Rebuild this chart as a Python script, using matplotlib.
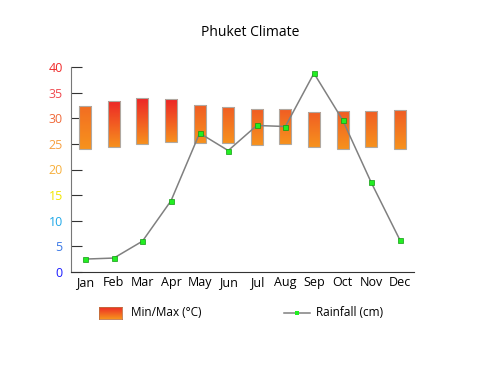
import matplotlib.pyplot as plt
import numpy as np
from matplotlib.colors import LinearSegmentedColormap

plt.rcParams["font.family"] = ["Open Sans", "DejaVu Sans"]

months = ["Jan", "Feb", "Mar", "Apr", "May", "Jun",
          "Jul", "Aug", "Sep", "Oct", "Nov", "Dec"]
temp_min = [24.0, 24.4, 25.0, 25.4, 25.2, 25.1, 24.8, 25.0, 24.3, 24.1, 24.3, 24.1]
temp_max = [32.5, 33.4, 33.9, 33.8, 32.6, 32.2, 31.8, 31.8, 31.3, 31.5, 31.5, 31.6]
rainfall = [2.5, 2.7, 6.0, 13.9, 27.1, 23.7, 28.6, 28.4, 38.8, 29.7, 17.5, 6.3]
yticks = [0, 5, 10, 15, 20, 25, 30, 35, 40]

tick_colors = ["#1a1aff", "#3a78e6", "#1fa8e8", "#f2e600", "#f7b03c",
               "#f7a040", "#f06a3a", "#f04a50", "#f02a2a"]

fig = plt.figure(figsize=(5, 3.75), dpi=100)
ax = fig.add_axes([0.142, 0.275, 0.686, 0.546])

x = np.arange(len(months))
bar_w = 0.42

# vertical gradient per bar: orange at the bottom, red-ish at the top
for xi, lo, hi in zip(x, temp_min, temp_max):
    top = "#ec2227" if hi >= 33 else "#f05a24"
    if xi == 0:
        top = "#f26b22"
    cmap = LinearSegmentedColormap.from_list("g", ["#f7941d", top])
    grad = np.linspace(0, 1, 256).reshape(-1, 1)
    rect = plt.Rectangle((xi - bar_w / 2, lo), bar_w, hi - lo,
                         fill=False, edgecolor="#b0a8a0", lw=0.8, zorder=3)
    ax.add_patch(rect)
    im = ax.imshow(grad, cmap=cmap, aspect="auto", origin="lower",
                   interpolation="bilinear",
                   extent=(xi - bar_w / 2, xi + bar_w / 2, lo - 0.3, hi + 0.3),
                   zorder=2)
    im.set_clip_path(rect)

ax.plot(x, rainfall, color="#808080", lw=1.1, zorder=4,
        marker="s", markersize=3.6, markerfacecolor="#22ee22",
        markeredgecolor="#119911", markeredgewidth=0.5)

ax.set_xlim(-0.5, 11.5)
ax.set_ylim(0, 40)
ax.set_yticks(yticks)
ax.set_yticklabels([str(v) for v in yticks], fontsize=9)
for lab, c in zip(ax.get_yticklabels(), tick_colors):
    lab.set_color(c)
ax.set_xticks(x)
ax.set_xticklabels(months, fontsize=9)
ax.tick_params(axis="x", length=0, pad=3)
ax.tick_params(axis="y", direction="in", length=8, color="#333333", pad=6)
for s in ["top", "right"]:
    ax.spines[s].set_visible(False)
ax.spines["left"].set_color("#777777")
ax.spines["bottom"].set_color("#333333")

fig.text(0.5, 1 - 32 / 375, "Phuket Climate", ha="center", va="center", fontsize=10)

# legend
sw = fig.add_axes([99 / 500, 1 - 319 / 375, 23 / 500, 12 / 375])
sw.imshow(np.linspace(0, 1, 64).reshape(-1, 1),
          cmap=LinearSegmentedColormap.from_list("l", ["#f7941d", "#ec2227"]),
          aspect="auto", origin="lower", interpolation="bilinear")
sw.set_xticks([])
sw.set_yticks([])
for s in sw.spines.values():
    s.set_color("#c07040")
    s.set_linewidth(0.6)
fig.text(131 / 500, 1 - 313 / 375, "Min/Max (°C)", va="center", fontsize=8.5)
fig.add_artist(plt.Line2D([284 / 500, 310 / 500], [1 - 313 / 375] * 2,
                          color="#808080", lw=1.1))
fig.add_artist(plt.Line2D([297 / 500], [1 - 313 / 375], marker="s",
                          markersize=2.5, color="#22ee22", markeredgewidth=0))
fig.text(316 / 500, 1 - 313 / 375, "Rainfall (cm)", va="center", fontsize=8.5)

fig.savefig("out.png", dpi=100)
